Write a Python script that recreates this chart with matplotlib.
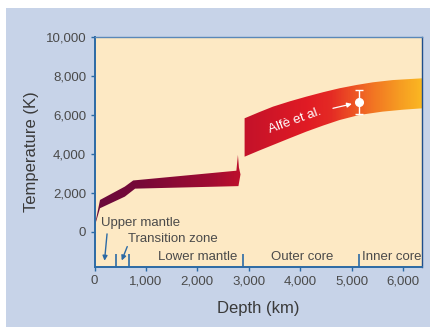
import numpy as np
import matplotlib
matplotlib.use('Agg')
import matplotlib.pyplot as plt
from matplotlib.patches import Polygon, Rectangle
from matplotlib.colors import LinearSegmentedColormap

plt.rcParams['font.family'] = ['Liberation Sans', 'DejaVu Sans']

# mantle band (depth km, temperature K)
mantle_up_d = [0, 107, 590, 753, 2760, 2790, 2810, 2840]
mantle_up_t = [250, 1640, 2325, 2640, 3140, 3950, 3300, 2950]
mantle_lo_d = [0, 107, 590, 790, 2800]
mantle_lo_t = [250, 1215, 1810, 2220, 2350]

# core band
core_up_d = [2920, 3200, 3472, 3800, 4120, 4450, 4767, 5100, 5414, 5800, 6371]
core_up_t = [5830, 6140, 6427, 6700, 6940, 7170, 7370, 7540, 7675, 7790, 7880]
core_lo_d = [2920, 3200, 3472, 3800, 4120, 4450, 4767, 5150, 5600, 6000, 6371]
core_lo_t = [3860, 4170, 4460, 4810, 5145, 5460, 5740, 6000, 6170, 6270, 6340]

# Alfe et al. estimate
alfe_depth = 5150
alfe_temp = 6650
alfe_err = 620

boundaries = [410, 670, 2890, 5150]
layer_names = ['Upper mantle', 'Transition zone', 'Lower mantle', 'Outer core', 'Inner core']

xticks = [0, 1000, 2000, 3000, 4000, 5000, 6000]
yticks = [0, 2000, 4000, 6000, 8000, 10000]

blue = '#2c6aa5'
txt = '#4a4a4a'

fig = plt.figure(figsize=(4.3, 3.27), dpi=100)
fig.patch.set_facecolor('white')
fig.add_artist(Rectangle((6/430, 0), 1, 319/327, transform=fig.transFigure,
                         facecolor='#c7d3e8', edgecolor='none', zorder=-5))

ax = fig.add_axes([94.5/430, 60/327, 327.5/430, 230/327])
ax.set_facecolor('#fde9c4')
ax.set_xlim(0, 6371)
ax.set_ylim(-1800, 10000)

cmap = LinearSegmentedColormap.from_list('temp', [
    (0.0, '#6a0a3c'), (0.12, '#740838'), (0.35, '#a00c32'), (0.45, '#c0102c'),
    (0.46, '#c4122a'), (0.65, '#e11b24'), (0.72, '#e42a24'), (0.78, '#ec4d24'),
    (0.85, '#f27523'), (0.93, '#f69b22'), (1.0, '#fbb822')])
grad = np.linspace(0, 1, 400).reshape(1, -1)

for ud, ut, ld, lt in [(mantle_up_d, mantle_up_t, mantle_lo_d, mantle_lo_t),
                       (core_up_d, core_up_t, core_lo_d, core_lo_t)]:
    pts = list(zip(ud, ut)) + list(zip(ld, lt))[::-1]
    poly = Polygon(pts, closed=True, facecolor='none', edgecolor='none')
    ax.add_patch(poly)
    im = ax.imshow(grad, cmap=cmap, extent=(0, 6371, -1800, 10000),
                   aspect='auto', origin='lower', zorder=2)
    im.set_clip_path(poly)

ax.errorbar(alfe_depth, alfe_temp, yerr=alfe_err, fmt='o', color='white',
            ms=5.5, capsize=3, elinewidth=1, capthick=1, zorder=5)
ax.annotate('', xy=(5060, 6600), xytext=(4586, 6310),
            arrowprops=dict(arrowstyle='-|>', color='white', lw=0.9, mutation_scale=7),
            zorder=5)
ax.text(3893, 5680, 'Alfè et al.', color='white', fontsize=9.5, rotation=20,
        ha='center', va='center', zorder=5)

# layer boundaries and labels
ax.vlines(boundaries, -1800, -1150, color=blue, lw=1.2, zorder=3)
ax.text(120, 445, layer_names[0], fontsize=9.5, color=txt, ha='left', va='center')
ax.annotate('', xy=(190, -1620), xytext=(249, 40),
            arrowprops=dict(arrowstyle='-|>', color=blue, lw=1, mutation_scale=7))
ax.text(657, -375, layer_names[1], fontsize=9.5, color=txt, ha='left', va='center')
ax.annotate('', xy=(510, -1600), xytext=(657, -620),
            arrowprops=dict(arrowstyle='-|>', color=blue, lw=1, mutation_scale=7))
ax.text(1240, -1265, layer_names[2], fontsize=9.5, color=txt, ha='left', va='center')
ax.text(4040, -1265, layer_names[3], fontsize=9.5, color=txt, ha='center', va='center')
ax.text(5210, -1265, layer_names[4], fontsize=9.5, color=txt, ha='left', va='center')

ax.set_xticks(xticks)
ax.set_xticklabels([f'{v:,}' for v in xticks])
ax.set_yticks(yticks)
ax.set_yticklabels([f'{v:,}' for v in yticks])
ax.tick_params(axis='both', colors=blue, labelcolor=txt, labelsize=9.5,
               direction='out', length=3, width=1, pad=3)

ax.spines['left'].set_color(blue)
ax.spines['bottom'].set_color(blue)
ax.spines['left'].set_linewidth(1.4)
ax.spines['bottom'].set_linewidth(1.4)
ax.spines['top'].set_color('#5a88b8')
ax.spines['top'].set_linewidth(1)
ax.spines['right'].set_color('#1f4e8a')
ax.spines['right'].set_linewidth(1)

ax.set_xlabel('Depth (km)', fontsize=12, color='#3a3a3a', labelpad=10)
ax.set_ylabel('Temperature (K)', fontsize=12, color='#3a3a3a', labelpad=5)

fig.savefig('out.png', dpi=100)
